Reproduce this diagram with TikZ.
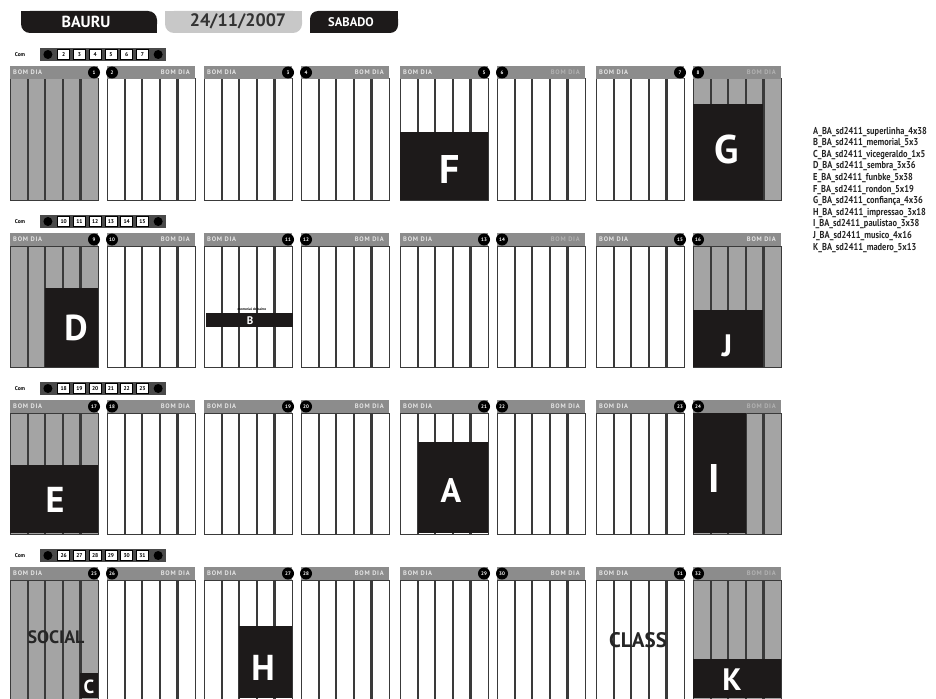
\documentclass[tikz,border=0pt]{standalone}
\usepackage{fontspec}
\setmainfont{PT Sans}
\newfontfamily\hdfont[LetterSpace=12]{PT Sans}
\newfontfamily\legfont[FakeStretch=0.84]{PT Sans}
\definecolor{hdr}{HTML}{8C8C8C}
\definecolor{pgray}{HTML}{A4A4A4}
\definecolor{divc}{HTML}{3A3A3A}
\definecolor{blk}{HTML}{1D1A1A}
\definecolor{datebg}{HTML}{C8C8C8}
\definecolor{hdtxt}{HTML}{E4E4E4}
\definecolor{hdfade}{HTML}{B2B2B2}
\definecolor{stripc}{HTML}{4A4A4A}
\tikzset{
  x=1pt, y=-1pt,
  divider/.style={draw=divc, line width=2.2pt},
  pageborder/.style={draw=divc, line width=1pt},
  bomdia/.style={text=#1, font=\fontsize{6.5}{6.5}\selectfont\hdfont\bfseries, inner sep=0},
  pgnum/.style={circle, fill=black, minimum size=12pt, inner sep=0, text=white, font=\fontsize{5}{5}\selectfont\bfseries},
  biglet/.style={text=white, font=\fontsize{#1}{#1}\selectfont\bfseries, inner sep=0, anchor=base},
  darklbl/.style={text=black!85, font=\fontsize{#1}{#1}\selectfont\bfseries, inner sep=0, anchor=base},
  blkfill/.style={fill=blk},
  comlbl/.style={font=\fontsize{5.5}{5.5}\selectfont\bfseries, inner sep=0},
  cellnum/.style={font=\fontsize{5.5}{5.5}\selectfont\bfseries, inner sep=0},
  titletxt/.style={font=\fontsize{#1}{#1}\selectfont\bfseries, inner sep=0},
  legtxt/.style={font=\fontsize{10}{10}\selectfont\legfont\bfseries, inner sep=0, anchor=base west, text=black!85},
}
\newcommand\pg[6]{%
  \fill[#5] ({#1},{#2+13}) rectangle ({#1+88},{#2+134});
  \foreach \k in {1,2,3,4}{\draw[divider] ({#1+17.6*\k},{#2+13}) -- ({#1+17.6*\k},{#2+134});}
  \draw[pageborder] ({#1},{#2+13}) rectangle ({#1+88},{#2+134});
  \fill[hdr] ({#1},{#2}) rectangle ({#1+88},{#2+13});
  \if#4L
    \node[bomdia=#6, anchor=west] (t#3) at ({#1+3},{#2+6.5}) {BOM DIA};
    \node[pgnum] (n#3) at ({#1+84},{#2+6.5}) {#3};
  \else
    \node[bomdia=#6, anchor=east] (t#3) at ({#1+83},{#2+6.5}) {BOM DIA};
    \node[pgnum] (n#3) at ({#1+5},{#2+6.5}) {#3};
  \fi
}
\newcommand\comstrip[2]{%
  \node[comlbl] (com#2) at (20,{#1-11}) {Com};
  \fill[stripc] (40,{#1-18}) rectangle (166,{#1-5});
  \fill[black] ({40+7.9},{#1-11.5}) circle (4.5);
  \fill[black] ({40+15.75*7+7.9},{#1-11.5}) circle (4.5);
  \foreach \i in {1,...,6}{%
    \pgfmathtruncatemacro\nn{#2+\i-1}
    \draw[fill=white, draw=black, line width=0.6pt] ({40+15.75*\i+1.8},{#1-16.5}) rectangle ({40+15.75*\i+14},{#1-6.5});
    \node[cellnum] (c\nn) at ({40+15.75*\i+7.9},{#1-11.5}) {\nn};
  }
}
\begin{document}
\begin{tikzpicture}
\useasboundingbox (0,0) rectangle (936,698);
\fill[white] (0,0) rectangle (936,698);
% title tabs
\fill[blk, rounded corners=9pt] (21,11) rectangle (157,33);
\fill[blk] (21,11) rectangle (40,20);
\fill[blk] (138,23) rectangle (157,33);
\node[titletxt=16, text=white] (bauru) at (86,22) {BAURU};
\fill[datebg, rounded corners=9pt] (165,11) rectangle (302,33);
\fill[datebg] (165,11) rectangle (302,22);
\node[titletxt=18, text=black!80] (date) at (238,21) {24/11/2007};
\fill[blk, rounded corners=8pt] (310,11) rectangle (398,33);
\fill[blk] (380,11) rectangle (398,20);
\fill[blk] (310,23) rectangle (328,33);
\node[titletxt=12.5, text=white] (sabado) at (351,22) {SABADO};
% strips
\comstrip{66}{2}
\comstrip{233}{10}
\comstrip{400}{18}
\comstrip{567}{26}
% row 1
\pg{10}{66}{1}{L}{pgray}{hdtxt}
\pg{107}{66}{2}{R}{white}{hdtxt}
\pg{204}{66}{3}{L}{white}{hdtxt}
\pg{301}{66}{4}{R}{white}{hdtxt}
\pg{400}{66}{5}{L}{white}{hdtxt}
\pg{497}{66}{6}{R}{white}{hdfade}
\pg{596}{66}{7}{L}{white}{hdtxt}
\pg{693}{66}{8}{R}{pgray}{hdfade}
% row 2
\pg{10}{233}{9}{L}{pgray}{hdtxt}
\pg{107}{233}{10}{R}{white}{hdtxt}
\pg{204}{233}{11}{L}{white}{hdtxt}
\pg{301}{233}{12}{R}{white}{hdtxt}
\pg{400}{233}{13}{L}{white}{hdtxt}
\pg{497}{233}{14}{R}{white}{hdfade}
\pg{596}{233}{15}{L}{white}{hdtxt}
\pg{693}{233}{16}{R}{pgray}{hdtxt}
% row 3
\pg{10}{400}{17}{L}{pgray}{hdtxt}
\pg{107}{400}{18}{R}{white}{hdtxt}
\pg{204}{400}{19}{L}{white}{hdtxt}
\pg{301}{400}{20}{R}{white}{hdtxt}
\pg{400}{400}{21}{L}{white}{hdtxt}
\pg{497}{400}{22}{R}{white}{hdtxt}
\pg{596}{400}{23}{L}{white}{hdtxt}
\pg{693}{400}{24}{R}{pgray}{hdfade}
% row 4
\pg{10}{567}{25}{L}{pgray}{hdtxt}
\pg{107}{567}{26}{R}{white}{hdtxt}
\pg{204}{567}{27}{L}{white}{hdtxt}
\pg{301}{567}{28}{R}{white}{hdtxt}
\pg{400}{567}{29}{L}{white}{hdtxt}
\pg{497}{567}{30}{R}{white}{hdtxt}
\pg{596}{567}{31}{L}{white}{hdtxt}
\pg{693}{567}{32}{R}{pgray}{hdfade}
% ad blocks
\fill[blkfill] (400,132) rectangle (488,200);
\node[biglet=40] (F) at (450,183) {F};
\fill[blkfill] (693,104) rectangle (763.4,200);
\node[biglet=40] (G) at (727,163) {G};
\fill[blkfill] (45.2,288) rectangle (98,367);
\node[biglet=36] (D) at (76,340) {D};
\fill[blkfill] (206,313) rectangle (293,327);
\node[font=\fontsize{3.5}{3.5}\selectfont\bfseries, inner sep=0] (btxt) at (252,309) {memorial do bairro};
\node[biglet=11] (B) at (250,324) {B};
\fill[blkfill] (693,310) rectangle (763.4,367);
\node[biglet=31] (J) at (727,356) {J};
\fill[blkfill] (10,465) rectangle (98,533);
\node[biglet=36] (E) at (55,512) {E};
\fill[blkfill] (417.6,442) rectangle (488,533);
\node[biglet=34] (A) at (451,502) {A};
\fill[blkfill] (693,413) rectangle (745.8,533);
\node[biglet=40] (I) at (714,492) {I};
\node[darklbl=18] (social) at (56,643) {SOCIAL};
\fill[blkfill] (80.4,673) rectangle (98,698);
\node[biglet=19] (C) at (89,693) {C};
\fill[blkfill] (239.2,626) rectangle (292,698);
\node[biglet=36] (H) at (263,680) {H};
\node[darklbl=21] (class) at (638,647) {CLASS};
\fill[blkfill] (693,659) rectangle (781,698);
\node[biglet=31] (K) at (732,690) {K};
% legend
\node[legtxt] (l1) at (813,134) {A\_BA\_sd2411\_superlinha\_4x38};
\node[legtxt] (l2) at (813,145.6) {B\_BA\_sd2411\_memorial\_5x3};
\node[legtxt] (l3) at (813,157.2) {C\_BA\_sd2411\_vicegeraldo\_1x5};
\node[legtxt] (l4) at (813,168.8) {D\_BA\_sd2411\_sembra\_3x36};
\node[legtxt] (l5) at (813,180.4) {E\_BA\_sd2411\_funbke\_5x38};
\node[legtxt] (l6) at (813,192) {F\_BA\_sd2411\_rondon\_5x19};
\node[legtxt] (l7) at (813,203.6) {G\_BA\_sd2411\_confiança\_4x36};
\node[legtxt] (l8) at (813,215.2) {H\_BA\_sd2411\_impressao\_3x18};
\node[legtxt] (l9) at (813,226.8) {I\_BA\_sd2411\_paulistao\_3x38};
\node[legtxt] (l10) at (813,238.4) {J\_BA\_sd2411\_musico\_4x16};
\node[legtxt] (l11) at (813,250) {K\_BA\_sd2411\_madero\_5x13};
\end{tikzpicture}
\end{document}
